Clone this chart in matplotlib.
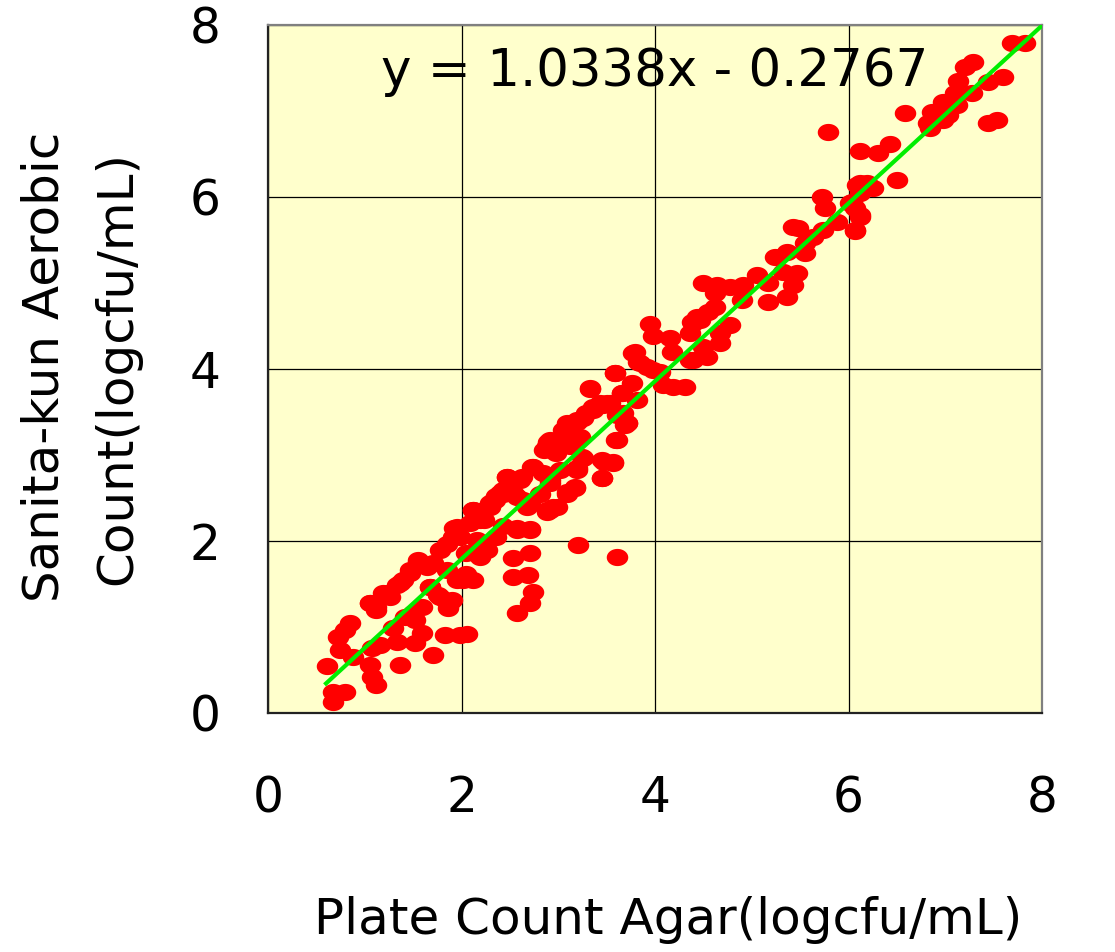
import matplotlib
matplotlib.use("Agg")
import matplotlib.pyplot as plt
import numpy as np

# ── Data ──────────────────────────────────────────────────────────────────────
plate_count = [
    0.67, 0.80, 0.67, 0.61, 0.74, 0.72, 0.80, 0.85, 0.88, 1.05, 1.07, 1.12,
    1.36, 1.07, 1.16, 1.33, 1.52, 1.59, 1.71, 1.83, 1.98, 2.06, 1.05, 1.12,
    1.23, 1.36, 1.47, 1.55, 1.50, 1.52, 1.59, 1.67, 1.76, 1.85, 1.90, 1.86,
    2.12, 2.02, 2.19, 2.22, 2.53, 2.71, 2.53, 2.69, 2.74, 2.71, 2.57, 2.57,
    2.71, 2.88, 3.20, 3.61,
    3.95, 3.98, 4.16, 4.18, 4.38, 4.43, 4.36, 4.08, 4.19, 4.31, 3.79, 3.82,
    3.92, 3.98, 4.05, 3.59, 3.33, 3.66, 3.76, 3.81, 3.36, 3.46, 3.53, 3.61,
    3.69, 3.61, 3.09, 3.19, 3.26, 2.89, 3.02, 3.12, 3.45, 3.57, 3.45, 3.25,
    3.19, 2.48, 2.63, 2.73, 2.84, 2.91, 3.09, 3.17, 2.91, 2.99, 2.40, 2.35,
    2.29, 2.12, 2.19, 2.57, 2.68, 2.71, 2.57, 1.95, 1.91,
    5.73, 5.76, 6.02, 6.12, 6.09, 6.19, 6.12, 6.07, 5.88, 5.74, 5.63, 5.55,
    5.55, 5.43, 5.48, 5.24, 5.36, 5.32, 5.47, 5.43, 5.36, 5.05, 5.17, 5.17,
    4.91, 4.78, 4.64, 4.50, 4.62, 4.90, 4.62, 4.55, 4.47, 4.39, 4.78, 4.67,
    4.67, 4.36, 4.50, 4.54, 4.39, 3.77, 3.84, 3.71,
    7.69, 7.82, 7.20, 7.29, 7.13, 7.10, 7.28, 7.12, 7.44, 7.60, 6.98, 7.03,
    6.98, 6.86, 6.82, 6.84, 7.44, 7.53, 6.58, 5.79, 6.12, 6.30, 6.43, 6.12,
    6.25, 6.50, 6.04, 6.07, 6.12, 6.07,
    1.05, 1.12, 1.19, 1.26, 1.33, 1.40, 1.47, 1.55, 1.64, 1.71, 1.78, 1.85,
    1.92, 1.98, 2.09, 2.12, 2.23, 2.29, 2.36, 2.43, 2.47, 1.67, 1.78, 1.88,
    1.95, 2.05, 2.19, 2.26, 2.36, 2.43, 1.85, 2.05, 2.16,
    2.23, 2.33, 2.43, 2.47, 2.60, 2.74, 2.85, 2.91, 3.05, 3.09, 3.19, 3.29,
    3.36, 3.43, 3.50, 3.33, 3.59, 3.66, 3.60, 3.47, 3.57, 3.45, 3.26, 3.19,
    3.17, 3.09, 2.95, 2.88, 2.71, 2.91, 3.02, 3.12, 3.22, 3.71, 3.67, 2.54,
    2.64, 2.81, 2.88, 2.98, 1.29, 1.42,
]
sanita_kun = [
    0.25, 0.24, 0.13, 0.55, 0.73, 0.88, 0.97, 1.05, 0.65, 0.56, 0.42, 0.33,
    0.56, 0.76, 0.79, 0.83, 0.81, 0.93, 0.67, 0.91, 0.91, 0.92, 1.28, 1.23,
    1.40, 1.51, 1.63, 1.76, 1.16, 1.08, 1.23, 1.47, 1.37, 1.29, 1.31, 1.22,
    1.55, 1.55, 1.81, 1.90, 1.80, 1.86, 1.58, 1.60, 1.41, 1.28, 1.16, 2.15,
    2.14, 2.34, 1.95, 1.81,
    4.52, 4.38, 4.36, 4.20, 4.55, 4.60, 4.10, 3.81, 3.79, 3.79, 4.20, 4.08,
    4.02, 3.99, 3.97, 3.95, 3.77, 3.72, 3.84, 3.64, 3.52, 3.58, 3.60, 3.47,
    3.35, 3.17, 3.33, 3.38, 3.43, 3.15, 3.09, 3.17, 2.94, 2.91, 2.73, 2.98,
    2.85, 2.73, 2.74, 2.86, 2.79, 2.71, 2.57, 2.62, 2.36, 2.40, 2.56, 2.48,
    2.40, 2.36, 2.24, 2.51, 2.40, 2.13, 2.13, 2.16, 2.05,
    6.00, 5.87, 5.93, 6.05, 6.14, 6.16, 5.79, 5.62, 5.71, 5.62, 5.53, 5.47,
    5.35, 5.65, 5.64, 5.30, 5.36, 5.13, 5.12, 4.98, 4.84, 5.09, 5.00, 4.78,
    4.98, 4.95, 4.98, 5.00, 4.88, 4.80, 4.72, 4.66, 4.57, 4.53, 4.51, 4.42,
    4.30, 4.42, 4.26, 4.14, 4.10, 4.19, 4.07, 3.37,
    7.79, 7.79, 7.51, 7.57, 7.35, 7.21, 7.21, 7.07, 7.34, 7.40, 7.10, 6.95,
    6.90, 6.99, 6.86, 6.80, 6.86, 6.90, 6.98, 6.76, 6.53, 6.51, 6.62, 6.16,
    6.10, 6.20, 5.94, 5.87, 5.77, 5.60,
    1.28, 1.20, 1.39, 1.35, 1.49, 1.55, 1.66, 1.78, 1.70, 1.74, 1.90, 1.97,
    2.15, 2.05, 2.21, 2.36, 2.24, 2.44, 2.52, 2.59, 2.75, 1.47, 1.35, 1.29,
    1.55, 1.62, 1.82, 1.90, 2.05, 2.17, 1.66, 1.86, 2.01,
    2.36, 2.46, 2.55, 2.75, 2.71, 2.86, 3.06, 3.17, 3.29, 3.37, 3.41, 3.49,
    3.56, 3.60, 3.60, 3.78, 3.95, 3.72, 3.17, 2.92, 2.92, 2.73, 2.96, 2.83,
    2.63, 2.55, 2.40, 2.36, 2.44, 2.67, 2.83, 3.10, 3.21, 3.37, 3.49, 2.55,
    2.48, 2.55, 3.10, 3.02, 0.99, 1.12,
]

slope, intercept = 1.0338, -0.2767
fit_x = np.array([0.6, 8.0])

# ── Plot ──────────────────────────────────────────────────────────────────────
plt.rcParams['font.family'] = 'DejaVu Sans'

fig = plt.figure(figsize=(11.15, 9.52), dpi=100)
ax = fig.add_axes([268/1115, 1 - 713/952, (1042 - 268)/1115, (713 - 25)/952])
ax.set_facecolor('#FFFFCC')

# wide ellipse marker
t = np.linspace(0, 2*np.pi, 40)
ellipse = list(zip(np.cos(t), 0.8*np.sin(t)))

ax.scatter(plate_count, sanita_kun, marker=ellipse, s=15.5**2,
           color='#FF0000', linewidths=0, zorder=3)
ax.plot(fit_x, slope*fit_x + intercept, color='#00EE00', lw=3, zorder=4)

ax.set_xlim(0, 8)
ax.set_ylim(0, 8)
ax.set_xticks([0, 2, 4, 6, 8])
ax.set_yticks([0, 2, 4, 6, 8])
ax.grid(True, color='black', lw=0.9)
ax.set_axisbelow(True)
ax.tick_params(length=0, labelsize=35)
ax.tick_params(axis='x', pad=44)
ax.tick_params(axis='y', pad=34)

for side in ['left', 'bottom']:
    ax.spines[side].set_color('#222222')
    ax.spines[side].set_linewidth(1.6)
for side in ['top', 'right']:
    ax.spines[side].set_color('#808080')
    ax.spines[side].set_linewidth(1.6)

ax.text(4.0, 7.45, 'y = 1.0338x - 0.2767', fontsize=37,
        ha='center', va='center', zorder=5)

fig.text(668/1115, 1 - 920/952, 'Plate Count Agar(logcfu/mL)',
         fontsize=36, ha='center', va='center')
fig.text(45/1115, 1 - 367/952, 'Sanita-kun Aerobic',
         fontsize=36, ha='center', va='center', rotation=90)
fig.text(117/1115, 1 - 368/952, 'Count(logcfu/mL)',
         fontsize=36, ha='center', va='center', rotation=90)

plt.savefig('out.png', dpi=100)
